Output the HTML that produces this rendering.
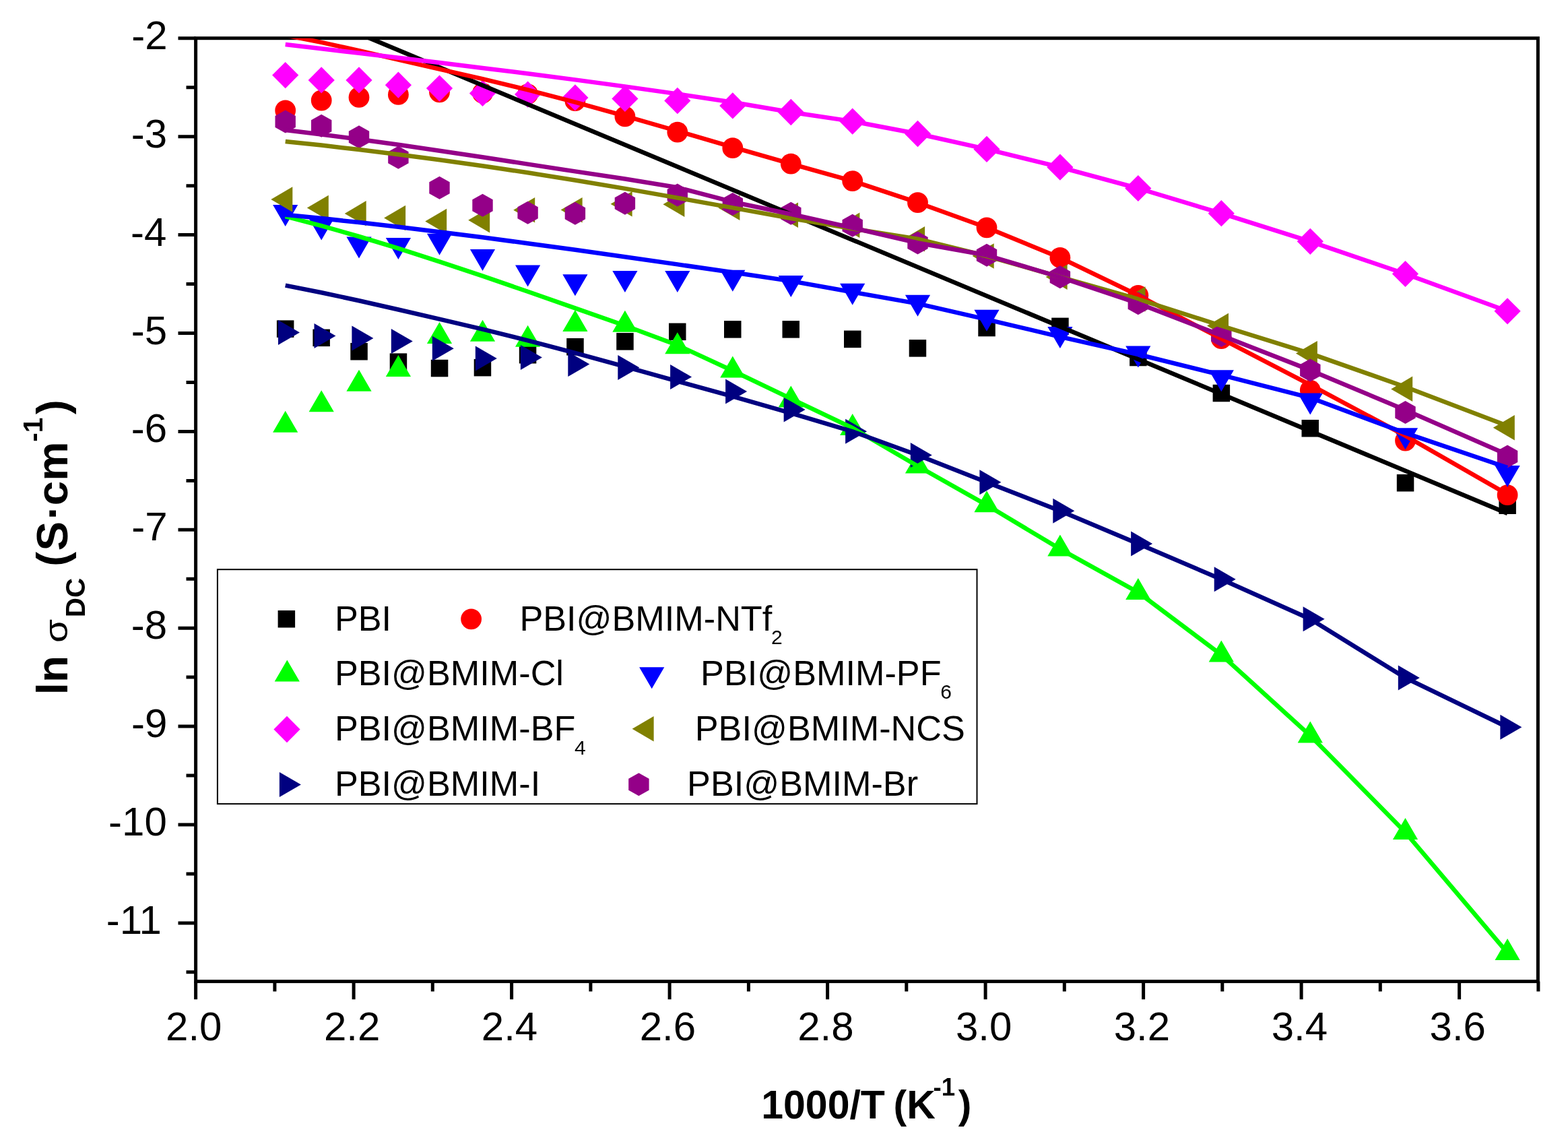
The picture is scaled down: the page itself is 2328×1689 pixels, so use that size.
<!DOCTYPE html><html><head><meta charset="utf-8"><style>html,body{margin:0;padding:0;background:#fff;}svg{display:block;}</style></head><body><svg xmlns="http://www.w3.org/2000/svg" width="2328" height="1689" viewBox="0 0 2328 1689">
<rect width="2328" height="1689" fill="#fff"/>
<defs><clipPath id="cp"><rect x="290.6" y="56.7" width="1992.8" height="1399.9"/></clipPath></defs>
<rect x="290.6" y="56.7" width="1992.8" height="1399.9" fill="none" stroke="#000" stroke-width="5.0"/>
<path d="M264.5,56.8H290.6M276.5,129.8H290.6M264.5,202.7H290.6M276.5,275.7H290.6M264.5,348.6H290.6M276.5,421.6H290.6M264.5,494.5H290.6M276.5,567.5H290.6M264.5,640.4H290.6M276.5,713.4H290.6M264.5,786.3H290.6M276.5,859.2H290.6M264.5,932.2H290.6M276.5,1005.1H290.6M264.5,1078.1H290.6M276.5,1151.0H290.6M264.5,1224.0H290.6M276.5,1297.0H290.6M264.5,1369.9H290.6M276.5,1442.8H290.6M290.6,1456.6V1483.2M407.9,1456.6V1471.6M525.1,1456.6V1483.2M642.3,1456.6V1471.6M759.6,1456.6V1483.2M876.9,1456.6V1471.6M994.1,1456.6V1483.2M1111.4,1456.6V1471.6M1228.6,1456.6V1483.2M1345.8,1456.6V1471.6M1463.1,1456.6V1483.2M1580.3,1456.6V1471.6M1697.6,1456.6V1483.2M1814.8,1456.6V1471.6M1932.1,1456.6V1483.2M2049.3,1456.6V1471.6M2166.6,1456.6V1483.2M2283.9,1456.6V1471.6" stroke="#000" stroke-width="5.0" fill="none"/>
<g font-family="Liberation Sans, Arial, sans-serif" fill="#000">
<text x="246.06" y="1544.30" font-size="60">2.0</text>
<text x="480.90" y="1544.30" font-size="60">2.2</text>
<text x="714.77" y="1544.30" font-size="60">2.4</text>
<text x="949.71" y="1544.30" font-size="60">2.6</text>
<text x="1184.19" y="1544.30" font-size="60">2.8</text>
<text x="1418.93" y="1544.30" font-size="60">3.0</text>
<text x="1653.76" y="1544.30" font-size="60">3.2</text>
<text x="1887.63" y="1544.30" font-size="60">3.4</text>
<text x="2122.57" y="1544.30" font-size="60">3.6</text>
<text x="195.17" y="72.80" font-size="60">-2</text>
<text x="194.79" y="218.70" font-size="60">-3</text>
<text x="193.91" y="364.60" font-size="60">-4</text>
<text x="194.67" y="510.50" font-size="60">-5</text>
<text x="194.79" y="656.40" font-size="60">-6</text>
<text x="195.17" y="802.30" font-size="60">-7</text>
<text x="194.76" y="948.20" font-size="60">-8</text>
<text x="194.99" y="1094.10" font-size="60">-9</text>
<text x="161.12" y="1240.00" font-size="60">-10</text>
<text x="157.71" y="1385.90" font-size="60">-11</text>
</g>
<g clip-path="url(#cp)">
<rect x="410.9" y="475.4" width="25.5" height="25.5" fill="#000000"/>
<rect x="464.4" y="488.6" width="25.5" height="25.5" fill="#000000"/>
<rect x="520.3" y="509.0" width="25.5" height="25.5" fill="#000000"/>
<rect x="578.7" y="524.4" width="25.5" height="25.5" fill="#000000"/>
<rect x="639.8" y="533.8" width="25.5" height="25.5" fill="#000000"/>
<rect x="703.7" y="532.9" width="25.5" height="25.5" fill="#000000"/>
<rect x="770.8" y="514.0" width="25.5" height="25.5" fill="#000000"/>
<rect x="841.2" y="502.0" width="25.5" height="25.5" fill="#000000"/>
<rect x="915.2" y="494.1" width="25.5" height="25.5" fill="#000000"/>
<rect x="993.0" y="479.6" width="25.5" height="25.5" fill="#000000"/>
<rect x="1075.0" y="476.1" width="25.5" height="25.5" fill="#000000"/>
<rect x="1161.5" y="476.1" width="25.5" height="25.5" fill="#000000"/>
<rect x="1253.0" y="490.6" width="25.5" height="25.5" fill="#000000"/>
<rect x="1349.7" y="504.1" width="25.5" height="25.5" fill="#000000"/>
<rect x="1452.3" y="473.8" width="25.5" height="25.5" fill="#000000"/>
<rect x="1561.2" y="471.6" width="25.5" height="25.5" fill="#000000"/>
<rect x="1677.1" y="517.8" width="25.5" height="25.5" fill="#000000"/>
<rect x="1800.6" y="570.8" width="25.5" height="25.5" fill="#000000"/>
<rect x="1932.5" y="623.0" width="25.5" height="25.5" fill="#000000"/>
<rect x="2073.8" y="704.0" width="25.5" height="25.5" fill="#000000"/>
<rect x="2225.4" y="737.5" width="25.5" height="25.5" fill="#000000"/>
<circle cx="423.7" cy="164.0" r="15.4" fill="#ff0000"/>
<circle cx="477.2" cy="149.0" r="15.4" fill="#ff0000"/>
<circle cx="533.0" cy="144.4" r="15.4" fill="#ff0000"/>
<circle cx="591.4" cy="140.4" r="15.4" fill="#ff0000"/>
<circle cx="652.5" cy="136.8" r="15.4" fill="#ff0000"/>
<circle cx="716.5" cy="138.2" r="15.4" fill="#ff0000"/>
<circle cx="783.6" cy="139.7" r="15.4" fill="#ff0000"/>
<circle cx="853.9" cy="149.7" r="15.4" fill="#ff0000"/>
<circle cx="927.9" cy="172.9" r="15.4" fill="#ff0000"/>
<circle cx="1005.8" cy="196.1" r="15.4" fill="#ff0000"/>
<circle cx="1087.8" cy="219.7" r="15.4" fill="#ff0000"/>
<circle cx="1174.3" cy="243.2" r="15.4" fill="#ff0000"/>
<circle cx="1265.7" cy="268.6" r="15.4" fill="#ff0000"/>
<circle cx="1362.5" cy="300.7" r="15.4" fill="#ff0000"/>
<circle cx="1465.0" cy="337.8" r="15.4" fill="#ff0000"/>
<circle cx="1573.9" cy="382.4" r="15.4" fill="#ff0000"/>
<circle cx="1689.8" cy="438.3" r="15.4" fill="#ff0000"/>
<circle cx="1813.3" cy="502.7" r="15.4" fill="#ff0000"/>
<circle cx="1945.3" cy="579.1" r="15.4" fill="#ff0000"/>
<circle cx="2086.5" cy="654.0" r="15.4" fill="#ff0000"/>
<circle cx="2238.1" cy="734.7" r="15.4" fill="#ff0000"/>
<path d="M423.7,609.8L442.3,641.8L405.1,641.8Z" fill="#00ff00"/>
<path d="M477.2,579.3L495.8,611.3L458.6,611.3Z" fill="#00ff00"/>
<path d="M533.0,548.8L551.6,580.8L514.4,580.8Z" fill="#00ff00"/>
<path d="M591.4,527.0L610.0,559.0L572.8,559.0Z" fill="#00ff00"/>
<path d="M652.5,478.0L671.1,510.0L633.9,510.0Z" fill="#00ff00"/>
<path d="M716.5,474.7L735.1,506.7L697.9,506.7Z" fill="#00ff00"/>
<path d="M783.6,482.7L802.2,514.7L765.0,514.7Z" fill="#00ff00"/>
<path d="M853.9,460.0L872.5,492.0L835.3,492.0Z" fill="#00ff00"/>
<path d="M927.9,460.7L946.5,492.7L909.3,492.7Z" fill="#00ff00"/>
<path d="M1005.8,493.2L1024.4,525.2L987.2,525.2Z" fill="#00ff00"/>
<path d="M1087.8,528.6L1106.4,560.6L1069.2,560.6Z" fill="#00ff00"/>
<path d="M1174.3,572.6L1192.9,604.6L1155.7,604.6Z" fill="#00ff00"/>
<path d="M1265.7,613.9L1284.3,645.9L1247.1,645.9Z" fill="#00ff00"/>
<path d="M1362.5,670.4L1381.1,702.4L1343.9,702.4Z" fill="#00ff00"/>
<path d="M1465.0,728.3L1483.6,760.3L1446.4,760.3Z" fill="#00ff00"/>
<path d="M1573.9,793.5L1592.5,825.5L1555.3,825.5Z" fill="#00ff00"/>
<path d="M1689.8,857.9L1708.4,889.9L1671.2,889.9Z" fill="#00ff00"/>
<path d="M1813.3,950.5L1831.9,982.5L1794.7,982.5Z" fill="#00ff00"/>
<path d="M1945.3,1070.5L1963.9,1102.5L1926.7,1102.5Z" fill="#00ff00"/>
<path d="M2086.5,1214.0L2105.1,1246.0L2067.9,1246.0Z" fill="#00ff00"/>
<path d="M2238.1,1392.9L2256.7,1424.9L2219.5,1424.9Z" fill="#00ff00"/>
<path d="M405.1,304.1L442.3,304.1L423.7,336.1Z" fill="#0000ff"/>
<path d="M458.6,324.5L495.8,324.5L477.2,356.5Z" fill="#0000ff"/>
<path d="M514.4,351.6L551.6,351.6L533.0,383.6Z" fill="#0000ff"/>
<path d="M572.8,353.1L610.0,353.1L591.4,385.1Z" fill="#0000ff"/>
<path d="M633.9,346.7L671.1,346.7L652.5,378.7Z" fill="#0000ff"/>
<path d="M697.9,370.0L735.1,370.0L716.5,402.0Z" fill="#0000ff"/>
<path d="M765.0,393.5L802.2,393.5L783.6,425.5Z" fill="#0000ff"/>
<path d="M835.3,407.2L872.5,407.2L853.9,439.2Z" fill="#0000ff"/>
<path d="M909.3,402.1L946.5,402.1L927.9,434.1Z" fill="#0000ff"/>
<path d="M987.2,402.1L1024.4,402.1L1005.8,434.1Z" fill="#0000ff"/>
<path d="M1069.2,400.7L1106.4,400.7L1087.8,432.7Z" fill="#0000ff"/>
<path d="M1155.7,408.9L1192.9,408.9L1174.3,440.9Z" fill="#0000ff"/>
<path d="M1247.1,420.7L1284.3,420.7L1265.7,452.7Z" fill="#0000ff"/>
<path d="M1343.9,437.7L1381.1,437.7L1362.5,469.7Z" fill="#0000ff"/>
<path d="M1446.4,459.7L1483.6,459.7L1465.0,491.7Z" fill="#0000ff"/>
<path d="M1555.3,485.1L1592.5,485.1L1573.9,517.1Z" fill="#0000ff"/>
<path d="M1671.2,513.5L1708.4,513.5L1689.8,545.5Z" fill="#0000ff"/>
<path d="M1794.7,549.3L1831.9,549.3L1813.3,581.3Z" fill="#0000ff"/>
<path d="M1926.7,583.5L1963.9,583.5L1945.3,615.5Z" fill="#0000ff"/>
<path d="M2067.9,635.3L2105.1,635.3L2086.5,667.3Z" fill="#0000ff"/>
<path d="M2219.5,690.9L2256.7,690.9L2238.1,722.9Z" fill="#0000ff"/>
<path d="M423.7,91.9L443.3,111.6L423.7,131.2L404.1,111.6Z" fill="#ff00ff"/>
<path d="M477.2,99.2L496.8,118.9L477.2,138.6L457.6,118.9Z" fill="#ff00ff"/>
<path d="M533.0,99.2L552.6,118.9L533.0,138.6L513.4,118.9Z" fill="#ff00ff"/>
<path d="M591.4,106.6L611.0,126.2L591.4,145.8L571.8,126.2Z" fill="#ff00ff"/>
<path d="M652.5,111.4L672.1,131.1L652.5,150.8L632.9,131.1Z" fill="#ff00ff"/>
<path d="M716.5,118.8L736.1,138.4L716.5,158.1L696.9,138.4Z" fill="#ff00ff"/>
<path d="M783.6,120.4L803.2,140.1L783.6,159.8L764.0,140.1Z" fill="#ff00ff"/>
<path d="M853.9,125.2L873.5,144.9L853.9,164.6L834.3,144.9Z" fill="#ff00ff"/>
<path d="M927.9,126.8L947.5,146.4L927.9,166.1L908.3,146.4Z" fill="#ff00ff"/>
<path d="M1005.8,129.8L1025.4,149.5L1005.8,169.2L986.2,149.5Z" fill="#ff00ff"/>
<path d="M1087.8,137.2L1107.4,156.9L1087.8,176.6L1068.2,156.9Z" fill="#ff00ff"/>
<path d="M1174.3,146.8L1193.9,166.5L1174.3,186.2L1154.7,166.5Z" fill="#ff00ff"/>
<path d="M1265.7,160.4L1285.3,180.1L1265.7,199.8L1246.1,180.1Z" fill="#ff00ff"/>
<path d="M1362.5,178.8L1382.1,198.5L1362.5,218.2L1342.9,198.5Z" fill="#ff00ff"/>
<path d="M1465.0,201.8L1484.6,221.4L1465.0,241.1L1445.4,221.4Z" fill="#ff00ff"/>
<path d="M1573.9,228.5L1593.5,248.2L1573.9,267.8L1554.3,248.2Z" fill="#ff00ff"/>
<path d="M1689.8,259.9L1709.4,279.5L1689.8,299.1L1670.2,279.5Z" fill="#ff00ff"/>
<path d="M1813.3,297.1L1832.9,316.7L1813.3,336.3L1793.7,316.7Z" fill="#ff00ff"/>
<path d="M1945.3,338.7L1964.9,358.3L1945.3,377.9L1925.7,358.3Z" fill="#ff00ff"/>
<path d="M2086.5,386.9L2106.1,406.5L2086.5,426.1L2066.9,406.5Z" fill="#ff00ff"/>
<path d="M2238.1,442.2L2257.7,461.8L2238.1,481.4L2218.5,461.8Z" fill="#ff00ff"/>
<path d="M402.3,296.0L434.3,277.2L434.3,314.8Z" fill="#808000"/>
<path d="M455.8,308.5L487.8,289.8L487.8,327.2Z" fill="#808000"/>
<path d="M511.7,316.9L543.7,298.1L543.7,335.6Z" fill="#808000"/>
<path d="M570.1,323.5L602.1,304.8L602.1,342.2Z" fill="#808000"/>
<path d="M631.2,328.5L663.2,309.8L663.2,347.2Z" fill="#808000"/>
<path d="M695.2,326.7L727.2,307.9L727.2,345.4Z" fill="#808000"/>
<path d="M762.2,311.7L794.2,292.9L794.2,330.4Z" fill="#808000"/>
<path d="M832.6,311.6L864.6,292.9L864.6,330.4Z" fill="#808000"/>
<path d="M906.6,302.8L938.6,284.1L938.6,321.6Z" fill="#808000"/>
<path d="M984.4,303.2L1016.4,284.4L1016.4,321.9Z" fill="#808000"/>
<path d="M1066.4,308.4L1098.4,289.6L1098.4,327.1Z" fill="#808000"/>
<path d="M1153.0,319.1L1185.0,300.4L1185.0,337.9Z" fill="#808000"/>
<path d="M1244.4,334.4L1276.4,315.6L1276.4,353.1Z" fill="#808000"/>
<path d="M1341.1,354.7L1373.1,335.9L1373.1,373.4Z" fill="#808000"/>
<path d="M1443.7,380.0L1475.7,361.2L1475.7,398.8Z" fill="#808000"/>
<path d="M1552.6,411.1L1584.6,392.4L1584.6,429.9Z" fill="#808000"/>
<path d="M1668.5,444.0L1700.5,425.2L1700.5,462.8Z" fill="#808000"/>
<path d="M1792.0,483.5L1824.0,464.8L1824.0,502.2Z" fill="#808000"/>
<path d="M1923.9,524.6L1955.9,505.9L1955.9,543.4Z" fill="#808000"/>
<path d="M2065.2,577.4L2097.2,558.6L2097.2,596.1Z" fill="#808000"/>
<path d="M2216.8,634.7L2248.8,616.0L2248.8,653.5Z" fill="#808000"/>
<path d="M445.0,493.4L413.0,474.9L413.0,511.9Z" fill="#000080"/>
<path d="M498.5,498.5L466.5,480.0L466.5,517.0Z" fill="#000080"/>
<path d="M554.4,502.0L522.4,483.5L522.4,520.5Z" fill="#000080"/>
<path d="M612.8,506.5L580.8,488.0L580.8,525.0Z" fill="#000080"/>
<path d="M673.8,517.2L641.8,498.7L641.8,535.7Z" fill="#000080"/>
<path d="M737.8,532.1L705.8,513.6L705.8,550.6Z" fill="#000080"/>
<path d="M804.9,530.6L772.9,512.1L772.9,549.1Z" fill="#000080"/>
<path d="M875.3,540.5L843.3,522.0L843.3,559.0Z" fill="#000080"/>
<path d="M949.3,545.4L917.3,526.9L917.3,563.9Z" fill="#000080"/>
<path d="M1027.1,559.4L995.1,540.9L995.1,577.9Z" fill="#000080"/>
<path d="M1109.1,581.1L1077.1,562.6L1077.1,599.6Z" fill="#000080"/>
<path d="M1195.6,608.1L1163.6,589.6L1163.6,626.6Z" fill="#000080"/>
<path d="M1287.1,640.3L1255.1,621.8L1255.1,658.8Z" fill="#000080"/>
<path d="M1383.8,675.5L1351.8,657.0L1351.8,694.0Z" fill="#000080"/>
<path d="M1486.4,715.7L1454.4,697.2L1454.4,734.2Z" fill="#000080"/>
<path d="M1595.3,758.2L1563.3,739.7L1563.3,776.7Z" fill="#000080"/>
<path d="M1711.1,807.1L1679.1,788.6L1679.1,825.6Z" fill="#000080"/>
<path d="M1834.7,859.7L1802.7,841.2L1802.7,878.2Z" fill="#000080"/>
<path d="M1966.6,918.8L1934.6,900.3L1934.6,937.3Z" fill="#000080"/>
<path d="M2107.8,1006.0L2075.8,987.5L2075.8,1024.5Z" fill="#000080"/>
<path d="M2259.4,1079.3L2227.4,1060.8L2227.4,1097.8Z" fill="#000080"/>
<path d="M423.7,163.5L438.9,172.0L438.9,189.0L423.7,197.5L408.5,189.0L408.5,172.0Z" fill="#940088"/>
<path d="M477.2,169.7L492.4,178.2L492.4,195.2L477.2,203.7L462.0,195.2L462.0,178.2Z" fill="#940088"/>
<path d="M533.0,186.3L548.2,194.8L548.2,211.8L533.0,220.3L517.8,211.8L517.8,194.8Z" fill="#940088"/>
<path d="M591.4,216.8L606.6,225.3L606.6,242.3L591.4,250.8L576.2,242.3L576.2,225.3Z" fill="#940088"/>
<path d="M652.5,261.8L667.7,270.3L667.7,287.3L652.5,295.8L637.3,287.3L637.3,270.3Z" fill="#940088"/>
<path d="M716.5,287.8L731.7,296.3L731.7,313.3L716.5,321.8L701.3,313.3L701.3,296.3Z" fill="#940088"/>
<path d="M783.6,298.8L798.8,307.3L798.8,324.3L783.6,332.8L768.4,324.3L768.4,307.3Z" fill="#940088"/>
<path d="M853.9,299.8L869.1,308.3L869.1,325.3L853.9,333.8L838.7,325.3L838.7,308.3Z" fill="#940088"/>
<path d="M927.9,284.8L943.1,293.3L943.1,310.3L927.9,318.8L912.7,310.3L912.7,293.3Z" fill="#940088"/>
<path d="M1005.8,272.6L1021.0,281.1L1021.0,298.1L1005.8,306.6L990.6,298.1L990.6,281.1Z" fill="#940088"/>
<path d="M1087.8,285.9L1103.0,294.4L1103.0,311.4L1087.8,319.9L1072.6,311.4L1072.6,294.4Z" fill="#940088"/>
<path d="M1174.3,299.8L1189.5,308.3L1189.5,325.3L1174.3,333.8L1159.1,325.3L1159.1,308.3Z" fill="#940088"/>
<path d="M1265.7,317.8L1280.9,326.3L1280.9,343.3L1265.7,351.8L1250.5,343.3L1250.5,326.3Z" fill="#940088"/>
<path d="M1362.5,343.5L1377.7,352.0L1377.7,369.0L1362.5,377.5L1347.3,369.0L1347.3,352.0Z" fill="#940088"/>
<path d="M1465.0,361.8L1480.2,370.3L1480.2,387.3L1465.0,395.8L1449.8,387.3L1449.8,370.3Z" fill="#940088"/>
<path d="M1573.9,394.3L1589.1,402.8L1589.1,419.8L1573.9,428.3L1558.7,419.8L1558.7,402.8Z" fill="#940088"/>
<path d="M1689.8,433.2L1705.0,441.7L1705.0,458.7L1689.8,467.2L1674.6,458.7L1674.6,441.7Z" fill="#940088"/>
<path d="M1813.3,480.9L1828.5,489.4L1828.5,506.4L1813.3,514.9L1798.1,506.4L1798.1,489.4Z" fill="#940088"/>
<path d="M1945.3,532.4L1960.5,540.9L1960.5,557.9L1945.3,566.4L1930.1,557.9L1930.1,540.9Z" fill="#940088"/>
<path d="M2086.5,595.0L2101.7,603.5L2101.7,620.5L2086.5,629.0L2071.3,620.5L2071.3,603.5Z" fill="#940088"/>
<path d="M2238.1,660.4L2253.3,668.9L2253.3,685.9L2238.1,694.4L2222.9,685.9L2222.9,668.9Z" fill="#940088"/>
<polyline points="423.7,4.4 2238.1,762.1" fill="none" stroke="#000000" stroke-width="6.5" stroke-linejoin="round"/>
<polyline points="423.7,52.3 477.2,62.9 533.0,75.2 591.4,88.6 652.5,102.7 716.5,117.2 783.6,133.3 853.9,151.7 927.9,172.2 1005.8,194.5 1087.8,218.4 1174.3,243.2 1265.7,268.6 1362.5,300.7 1465.0,337.8 1573.9,382.4 1689.8,438.3 1813.3,502.7 1945.3,571.2 2086.5,646.7 2238.1,733.6" fill="none" stroke="#ff0000" stroke-width="6.5" stroke-linejoin="round"/>
<polyline points="423.7,321.1 477.2,335.1 533.0,351.0 591.4,368.7 652.5,388.3 716.5,409.7 783.6,432.8 853.9,457.4 927.9,483.2 1005.8,512.3 1087.8,550.3 1174.3,591.6 1265.7,635.2 1362.5,691.7 1465.0,749.6 1573.9,814.8 1689.8,879.2 1813.3,971.8 1945.3,1091.8 2086.5,1235.3 2238.1,1414.2" fill="none" stroke="#00ff00" stroke-width="6.5" stroke-linejoin="round"/>
<polyline points="423.7,318.8 477.2,324.1 533.0,330.1 591.4,336.8 652.5,344.2 716.5,352.3 783.6,361.2 853.9,370.8 927.9,381.2 1005.8,392.4 1087.8,404.3 1174.3,417.1 1265.7,433.5 1362.5,450.6 1465.0,474.1 1573.9,499.8 1689.8,526.0 1813.3,556.6 1945.3,590.3 2086.5,642.7 2238.1,694.0" fill="none" stroke="#0000ff" stroke-width="6.5" stroke-linejoin="round"/>
<polyline points="423.7,66.1 477.2,72.3 533.0,78.8 591.4,85.7 652.5,93.0 716.5,100.9 783.6,109.3 853.9,118.4 927.9,128.4 1005.8,139.4 1087.8,151.8 1174.3,166.5 1265.7,180.1 1362.5,198.5 1465.0,221.4 1573.9,248.2 1689.8,279.5 1813.3,316.7 1945.3,358.3 2086.5,406.5 2238.1,461.8" fill="none" stroke="#ff00ff" stroke-width="6.5" stroke-linejoin="round"/>
<polyline points="423.7,209.9 477.2,215.6 533.0,222.1 591.4,229.3 652.5,237.3 716.5,246.3 783.6,256.3 853.9,267.5 927.9,279.9 1005.8,293.6 1087.8,308.4 1174.3,324.0 1265.7,339.4 1362.5,354.7 1465.0,380.0 1573.9,411.1 1689.8,444.0 1813.3,483.5 1945.3,524.6 2086.5,574.2 2238.1,632.0" fill="none" stroke="#808000" stroke-width="6.5" stroke-linejoin="round"/>
<polyline points="423.7,423.6 477.2,434.2 533.0,446.2 591.4,459.5 652.5,473.6 716.5,488.6 783.6,505.3 853.9,523.9 927.9,544.2 1005.8,565.8 1087.8,588.3 1174.3,613.2 1265.7,640.3 1362.5,675.5 1465.0,715.7 1573.9,758.2 1689.8,807.1 1813.3,859.7 1945.3,918.8 2086.5,1006.0 2238.1,1079.3" fill="none" stroke="#000080" stroke-width="6.5" stroke-linejoin="round"/>
<polyline points="423.7,192.9 477.2,199.4 533.0,206.7 591.4,214.8 652.5,223.7 716.5,233.3 783.6,243.6 853.9,254.4 927.9,265.5 1005.8,278.3 1087.8,299.7 1174.3,317.7 1265.7,338.1 1362.5,360.5 1465.0,378.8 1573.9,411.3 1689.8,450.2 1813.3,497.9 1945.3,549.4 2086.5,608.5 2238.1,674.8" fill="none" stroke="#940088" stroke-width="6.5" stroke-linejoin="round"/>
</g>
<rect x="322.9" y="845.2" width="1127.6" height="347.9" fill="none" stroke="#000" stroke-width="2"/>
<rect x="412.6" y="906.0" width="25.5" height="25.5" fill="#000000"/>
<circle cx="699.6" cy="918.8" r="15.4" fill="#ff0000"/>
<path d="M426.3,979.6L444.9,1011.6L407.7,1011.6Z" fill="#00ff00"/>
<path d="M949.1,990.2L986.3,990.2L967.7,1022.2Z" fill="#0000ff"/>
<path d="M426.0,1062.8L445.6,1082.5L426.0,1102.2L406.4,1082.5Z" fill="#ff00ff"/>
<path d="M938.6,1081.8L970.6,1063.0L970.6,1100.5Z" fill="#808000"/>
<path d="M446.9,1164.5L414.9,1146.0L414.9,1183.0Z" fill="#000080"/>
<path d="M948.4,1147.3L963.6,1155.8L963.6,1172.8L948.4,1181.3L933.2,1172.8L933.2,1155.8Z" fill="#940088"/>
<g font-family="Liberation Sans, Arial, sans-serif" fill="#000">
<text x="496.92" y="935.70" font-size="52.2">PBI</text>
<text x="771.42" y="935.70" font-size="52.2">PBI@BMIM-NTf</text>
<text x="1145.09" y="955.70" font-size="30">2</text>
<text x="496.92" y="1016.70" font-size="52.2">PBI@BMIM-Cl</text>
<text x="1040.12" y="1016.70" font-size="52.2">PBI@BMIM-PF</text>
<text x="1396.18" y="1036.70" font-size="30">6</text>
<text x="496.92" y="1099.40" font-size="52.2">PBI@BMIM-BF</text>
<text x="853.01" y="1119.80" font-size="30">4</text>
<text x="1031.82" y="1099.40" font-size="52.2">PBI@BMIM-NCS</text>
<text x="496.92" y="1180.50" font-size="52.2">PBI@BMIM-I</text>
<text x="1020.12" y="1180.50" font-size="52.2">PBI@BMIM-Br</text>
</g>
<g font-family="Liberation Sans, Arial, sans-serif" fill="#000">
<text x="1130.22" y="1659.60" font-size="59" font-weight="bold">1000/T</text>
<text x="1326.56" y="1659.60" font-size="59" font-weight="bold">(</text>
<text x="1346.25" y="1659.60" font-size="59" font-weight="bold">K</text>
<text x="1385.62" y="1626.10" font-size="36.6" font-weight="bold">-1</text>
<text x="1422.74" y="1659.60" font-size="59" font-weight="bold">)</text>
</g>
<g font-family="Liberation Sans, Arial, sans-serif" fill="#000" transform="translate(99.8,1030) rotate(-90)">
<text x="-1.17" y="0.00" font-size="65.5" font-weight="bold">ln</text>
<text transform="translate(75.91,0) scale(1.19,1)" x="0" y="0" font-size="47.8">σ</text>
<text x="113.68" y="25.80" font-size="40.6" font-weight="bold">DC</text>
<text x="189.34" y="0.00" font-size="65.5" font-weight="bold">(</text>
<text x="212.61" y="0.00" font-size="65.5" font-weight="bold">S</text>
<text x="258.89" y="0.00" font-size="65.5" font-weight="bold">·</text>
<text x="279.74" y="0.00" font-size="65.5" font-weight="bold">cm</text>
<text x="374.27" y="-37.00" font-size="40.6" font-weight="bold">-1</text>
<text x="415.14" y="0.00" font-size="65.5" font-weight="bold">)</text>
</g>
</svg></body></html>
